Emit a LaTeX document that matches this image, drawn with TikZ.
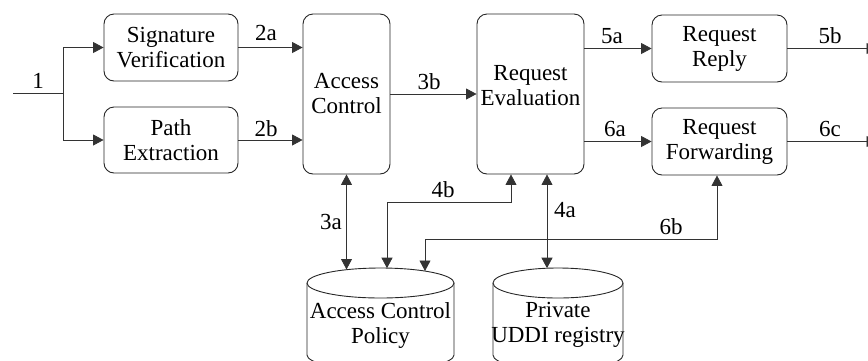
\documentclass[tikz,border=0pt]{standalone}
\usepackage{fontspec}
\setmainfont{Liberation Serif}
\usetikzlibrary{arrows.meta}
\begin{document}
\begin{tikzpicture}[x=1pt,y=-1pt,
  font=\fontsize{23}{25}\selectfont,
  >={Triangle[length=10.5pt,width=11pt]},
  box/.style={draw=black!85, line width=0.9pt, rounded corners=10pt,
              align=center, inner sep=0pt},
  conn/.style={draw=black!80, line width=0.8pt},
  cyl/.style={draw=black!85, line width=0.9pt},
  lbl/.style={inner sep=0pt, align=center}]
\useasboundingbox (0,0) rectangle (868,360);

% processing stages
\node[box, minimum width=134pt, minimum height=67pt] (sig) at (171,47.5) {Signature\\Verification};
\node[box, minimum width=134pt, minimum height=66pt] (path) at (171,140) {Path\\Extraction};
\node[box, minimum width=87pt, minimum height=160pt] (ac) at (346.5,94) {Access\\Control};
\node[box, minimum width=107pt, minimum height=160pt] (re) at (530.5,94) {};
\node[lbl] (retext) at (530.5,86) {Request\\Evaluation};
\node[box, minimum width=135pt, minimum height=67pt] (rr) at (719.5,48.5) {Request\\Reply};
\node[box, minimum width=135pt, minimum height=67pt] (rf) at (719.5,141.5) {Request\\Forwarding};

% data stores
\draw[cyl] (307,283) -- (307,355) arc[start angle=180, end angle=360, x radius=73.5pt, y radius=15pt] -- (454,283);
\draw[cyl] (380.5,283) ellipse[x radius=73.5pt, y radius=15pt];
\node[lbl] (acp) at (380.5,325) {Access Control\\Policy};
\draw[cyl] (493,283) -- (493,355) arc[start angle=180, end angle=360, x radius=65pt, y radius=15pt] -- (623,283);
\draw[cyl] (558,283) ellipse[x radius=65pt, y radius=15pt];
\node[lbl] (uddi) at (558,325) {Private\\UDDI registry};

% connector end points
\coordinate (in) at (13,93.5);
\coordinate (fork) at (63,93.5);
\coordinate (out5) at (877,48.5);
\coordinate (out6) at (877,141.5);
\coordinate (acpA) at (346.5,269.5);
\coordinate (acpB) at (387,268.2);
\coordinate (acpC) at (425,271);
\coordinate (uddiA) at (547,268.2);

% connectors
\draw[conn] (in) -- (fork);
\draw[conn,->] (fork) |- (sig.west);
\draw[conn,->] (fork) |- (path.west);
\draw[conn,->] (sig.east) -- (sig.east -| ac.west);
\draw[conn,->] (path.east) -- (path.east -| ac.west);
\draw[conn,->] (ac.east) -- (ac.east -| re.west);
\draw[conn,->] (rr.west -| re.east) -- (rr.west);
\draw[conn,->] (rf.west -| re.east) -- (rf.west);
\draw[conn,->] (rr.east) -- (out5);
\draw[conn,->] (rf.east) -- (out6);
\draw[conn,<->] (ac.south) -- (acpA);
\draw[conn,<->] ([xshift=-19.5pt]re.south) -- ++(0,28) -| (acpB);
\draw[conn,<->] ([xshift=-2.5pt]rf.south) -- ++(0,64) -| (acpC);
\draw[conn,<->] ([xshift=16.5pt]re.south) -- (uddiA);

% connector labels
\node[lbl] (l1) at (38,81) {1};
\node[lbl] (l2a) at (266,33) {2a};
\node[lbl] (l2b) at (266,128.5) {2b};
\node[lbl] (l3b) at (429,82) {3b};
\node[lbl] (l5a) at (612,36) {5a};
\node[lbl] (l5b) at (830,36) {5b};
\node[lbl] (l6a) at (615,129) {6a};
\node[lbl] (l6c) at (830,129) {6c};
\node[lbl] (l3a) at (331,222) {3a};
\node[lbl] (l4b) at (443,190) {4b};
\node[lbl] (l4a) at (565,210) {4a};
\node[lbl] (l6b) at (671,227) {6b};
\end{tikzpicture}
\end{document}
